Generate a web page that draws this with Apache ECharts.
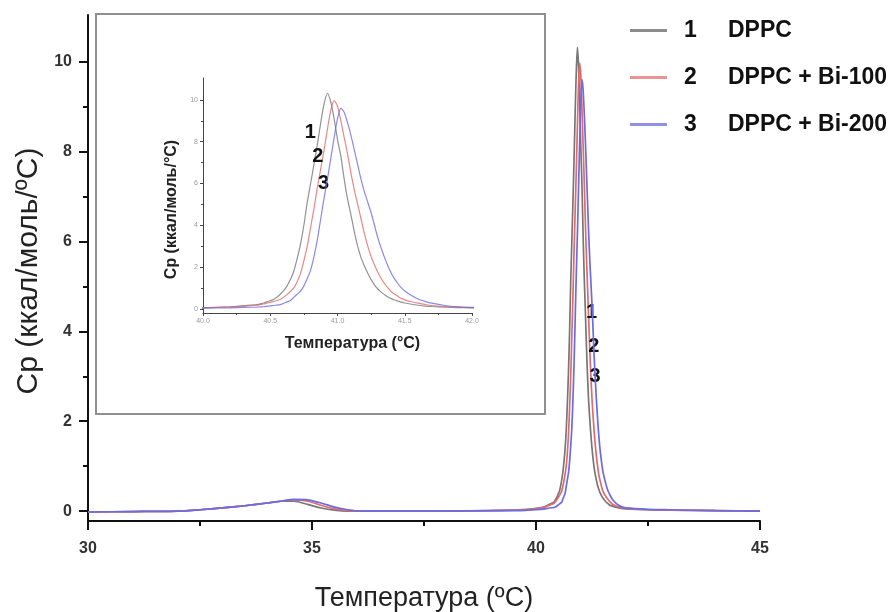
<!DOCTYPE html>
<html><head><meta charset="utf-8">
<script src="https://cdn.jsdelivr.net/npm/echarts@6/dist/echarts.min.js"></script>
<style>html,body{margin:0;padding:0;background:#fff}#c{width:896px;height:612px}</style>
</head><body><div id="c"></div><script>
// ---- data ----
const temps = [30,31,32,32.5,33,33.5,34,34.3,34.6,34.9,35.2,35.5,35.8,36.1,36.5,37,38,39,39.5,39.8,40,40.2,40.3,
  40.4,40.425,40.45,40.475,40.5,40.525,40.55,40.575,40.6,40.625,40.65,40.675,40.7,40.725,40.75,40.775,40.8,40.825,40.85,40.875,
  40.9,40.925,40.95,40.975,41,41.025,41.05,41.075,41.1,41.125,41.15,41.175,41.2,41.225,41.25,41.275,41.3,41.325,41.35,41.375,
  41.4,41.425,41.45,41.475,41.5,
  41.55,41.6,41.65,41.7,41.8,41.9,42,42.5,43,44,45];
const cpDPPC = [-0.02,-0.01,0,0.03,0.07,0.12,0.18,0.22,0.22,0.15,0.07,0.02,0,0,0,0,0,0.01,0.02,0.04,0.06,0.1,0.15,
  0.2,0.24,0.28,0.33,0.39,0.45,0.56,0.7,0.87,1.1,1.4,1.8,2.4,3.1,4.0,5.1,6.0,6.9,7.85,8.9,
  9.8,10.32,9.9,9.1,8.1,7.3,6.2,5.25,4.5,3.7,3.0,2.45,2.05,1.7,1.4,1.15,0.95,0.8,0.68,0.57,
  0.49,0.42,0.37,0.32,0.28,
  0.22,0.17,0.13,0.11,0.08,0.06,0.05,0.03,0.02,0.01,0];
const cpBi100 = [-0.02,-0.01,0,0.03,0.07,0.12,0.18,0.22,0.25,0.22,0.13,0.05,0.01,0,0,0,0,0.01,0.02,0.03,0.05,0.09,0.13,
  0.17,0.2,0.23,0.27,0.31,0.35,0.4,0.45,0.56,0.68,0.83,1.0,1.3,1.7,2.3,3.0,3.9,4.8,5.8,6.7,
  7.6,8.6,9.5,9.97,9.7,9.0,8.2,7.4,6.5,5.7,5.0,4.3,3.6,3.0,2.5,2.1,1.75,1.45,1.2,1.0,
  0.82,0.7,0.6,0.5,0.43,
  0.34,0.27,0.21,0.16,0.11,0.08,0.06,0.03,0.02,0.01,0];
const cpBi200 = [-0.02,-0.01,0,0.03,0.07,0.12,0.18,0.22,0.26,0.25,0.18,0.09,0.03,0,0,0,0,0.01,0.01,0.02,0.03,0.05,0.07,
  0.08,0.09,0.1,0.12,0.14,0.16,0.18,0.2,0.27,0.33,0.4,0.55,0.7,0.85,1.1,1.45,1.85,2.5,3.3,4.3,
  5.3,6.2,7.2,8.2,9.1,9.6,9.4,8.9,8.3,7.6,6.9,6.2,5.6,5.1,4.6,4.0,3.4,2.9,2.45,2.05,
  1.7,1.42,1.2,1.0,0.85,
  0.64,0.47,0.36,0.27,0.16,0.1,0.07,0.04,0.03,0.01,0];
const seriesNames = ['DPPC','DPPC + Bi-100','DPPC + Bi-200'];
const seriesNums = ['1','2','3'];
const yMajorTicks = [0,2,4,6,8,10];
const yMinorTicks = [1,3,5,7,9];
// annotation anchors (data coordinates) for the curve numbers
const mainNumAt = [[41.24,4.41],[41.29,3.66],[41.32,2.99]];
const insetNumAt = [[40.797,8.42],[40.854,7.29],[40.896,6.01]];

const cpAll = [cpDPPC, cpBi100, cpBi200];
const colors = ['#777777','#e26a6a','#6b6be6'];
const legendColors = ['#8c8c8c','#e99393','#9090e8'];
const FF = "'Liberation Sans', Arial, sans-serif";

function pairs(arr){ return temps.map((t,i)=>[t,arr[i]]); }

const series = [];
cpAll.forEach((arr,k)=>{
  series.push({
    name: seriesNames[k], type:'line', xAxisIndex:0, yAxisIndex:0,
    data: pairs(arr), symbol:'none', smooth:0.25, z: 3+k,
    lineStyle:{color:colors[k], width:1.7}, itemStyle:{color:colors[k]},
    markPoint:{
      symbol:'circle', symbolSize:1, itemStyle:{color:'rgba(0,0,0,0)'},
      label:{show:true, position:'inside', formatter:seriesNums[k], color:'#111', fontSize:20, fontWeight:'bold', fontFamily:FF},
      data:[{coord: mainNumAt[k]}]
    }
  });
});
cpAll.forEach((arr,k)=>{
  series.push({
    name: seriesNames[k], type:'line', xAxisIndex:1, yAxisIndex:2,
    data: pairs(arr), symbol:'none', smooth:0.25, z: 3+k, clip:true,
    lineStyle:{color:colors[k], width:1.2, opacity:0.8}, itemStyle:{color:colors[k]},
    markPoint:{
      symbol:'circle', symbolSize:1, itemStyle:{color:'rgba(0,0,0,0)'},
      label:{show:true, position:'inside', formatter:seriesNums[k], color:'#111', fontSize:20, fontWeight:'bold', fontFamily:FF},
      data:[{coord: insetNumAt[k]}]
    }
  });
});

const chart = echarts.init(document.getElementById('c'), null, {renderer:'canvas'});
chart.setOption({
  animation:false,
  backgroundColor:'#fff',
  grid:[
    {left:88, right:136, top:15, bottom:91, outerBoundsMode:'none', containLabel:false},
    {left:203, right:424, top:78, bottom:299, outerBoundsMode:'none', containLabel:false}
  ],
  graphic:[{
    type:'rect', shape:{x:96, y:14, width:449, height:400},
    style:{fill:'none', stroke:'#8f8f8f', lineWidth:2}, z:1
  }],
  legend:{
    orient:'vertical', left:625, top:14, itemWidth:37, itemHeight:3, itemGap:24,
    icon:'rect',
    data: seriesNames.map((n,i)=>({name:n, itemStyle:{color:legendColors[i]}})),
    formatter: name => '{n|'+seriesNums[seriesNames.indexOf(name)]+'}{t|'+name+'}',
    textStyle:{fontFamily:FF, rich:{
      n:{width:44, padding:[0,0,0,12], fontSize:23, fontWeight:'bold', color:'#111', lineHeight:23, fontFamily:FF},
      t:{fontSize:23, fontWeight:'bold', color:'#111', lineHeight:23, fontFamily:FF}
    }}
  },
  xAxis:[
    {gridIndex:0, type:'value', min:30, max:45, interval:5,
     axisLine:{onZero:false, lineStyle:{color:'#111', width:2}},
     axisTick:{length:9, lineStyle:{color:'#111', width:2}},
     minorTick:{show:true, splitNumber:2, length:5, lineStyle:{color:'#111', width:2}},
     axisLabel:{margin:20, fontSize:16, fontWeight:'bold', color:'#333', fontFamily:FF},
     splitLine:{show:false},
     name:'Температура (ºC)', nameLocation:'middle', nameGap:64,
     nameTextStyle:{fontSize:27, color:'#222', fontFamily:FF}},
    {gridIndex:1, type:'value', min:40, max:42, interval:0.5,
     axisLine:{onZero:false, lineStyle:{color:'#444', width:1}},
     axisTick:{length:3, lineStyle:{color:'#444', width:1}},
     minorTick:{show:true, splitNumber:2, length:2, lineStyle:{color:'#444', width:1}},
     axisLabel:{margin:5, fontSize:7, color:'#999', fontFamily:FF, formatter:v=>v.toFixed(1)},
     splitLine:{show:false},
     name:'Температура (°C)', nameLocation:'middle', nameGap:23,
     nameTextStyle:{fontSize:16, fontWeight:'bold', color:'#222', fontFamily:FF, padding:[0,0,0,30]}}
  ],
  yAxis:[
    {gridIndex:0, type:'value', min:-0.22, max:11.04, position:'left',
     axisLine:{show:true, onZero:false, lineStyle:{color:'#111', width:2}},
     axisTick:{show:true, length:9, customValues:yMajorTicks, lineStyle:{color:'#111', width:2}},
     axisLabel:{customValues:yMajorTicks, margin:16, fontSize:16, fontWeight:'bold', color:'#333', fontFamily:FF},
     splitLine:{show:false},
     name:'Cp (ккал/моль/ºC)', nameLocation:'middle', nameGap:43,
     nameTextStyle:{fontSize:30, color:'#222', fontFamily:FF, padding:[0,6,0,0]}},
    {gridIndex:0, type:'value', min:-0.22, max:11.04, position:'left',
     axisLine:{show:false, onZero:false},
     axisTick:{show:true, length:5, customValues:yMinorTicks, lineStyle:{color:'#111', width:2}},
     axisLabel:{show:false}, splitLine:{show:false}},
    {gridIndex:1, type:'value', min:-0.2, max:11.05, position:'left',
     axisLine:{show:true, onZero:false, lineStyle:{color:'#444', width:1}},
     axisTick:{show:true, length:3, customValues:yMajorTicks, lineStyle:{color:'#444', width:1}},
     axisLabel:{customValues:yMajorTicks, margin:5, fontSize:7, color:'#999', fontFamily:FF},
     splitLine:{show:false},
     name:'Cp (ккал/моль/°C)', nameLocation:'middle', nameGap:23,
     nameTextStyle:{fontSize:16, fontWeight:'bold', color:'#222', fontFamily:FF, padding:[0,28,0,0]}},
    {gridIndex:1, type:'value', min:-0.2, max:11.05, position:'left',
     axisLine:{show:false, onZero:false},
     axisTick:{show:true, length:2, customValues:yMinorTicks, lineStyle:{color:'#444', width:1}},
     axisLabel:{show:false}, splitLine:{show:false}}
  ],
  series: series
});
</script></body></html>
